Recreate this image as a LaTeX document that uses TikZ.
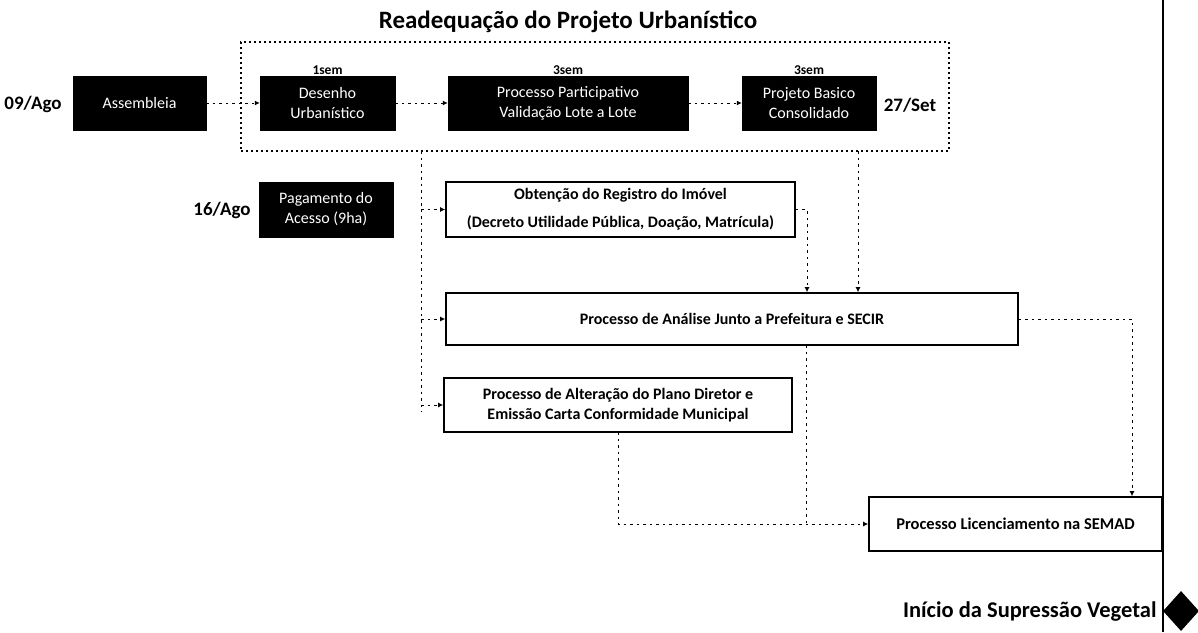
\documentclass[tikz,border=0pt]{standalone}
\usepackage{fontspec}
\setmainfont{Carlito}
\usetikzlibrary{arrows.meta,shapes.geometric,calc}
\begin{document}
\begin{tikzpicture}[x=1pt,y=-1pt,
 blk/.style={fill=black,text=white,draw=black,minimum height=54pt,inner sep=2pt,align=center,font=\fontsize{16}{20}\selectfont},
 wbox/.style={draw=black,line width=1.6pt,fill=white,align=center,inner sep=2pt,font=\bfseries\fontsize{16}{20}\selectfont},
 lbl/.style={font=\bfseries\fontsize{19}{21}\selectfont},
 sem/.style={font=\bfseries\fontsize{13.5}{15}\selectfont},
 grp/.style={draw=black,line width=1.3pt,dash pattern=on 2pt off 3pt},
 conn/.style={line width=1pt,dash pattern=on 2.5pt off 4pt,-{Latex[length=5pt,width=5pt]}},
 faint/.style={line width=1pt,dash pattern=on 2.5pt off 4pt},
]
\useasboundingbox (0,0) rectangle (1198,632);
\node[font=\bfseries\fontsize{25}{27}\selectfont] (title) at (568,22) {Readequação do Projeto Urbanístico};
\node[grp,minimum width=708pt,minimum height=109pt,inner sep=0pt] (grp) at (595,96.5) {};
% row 1
\node[blk,minimum width=133pt] (asm) at (139.5,103) {Assembleia};
\node[blk,minimum width=135pt] (des) at (327.5,103) {Desenho\\Urbanístico};
\node[blk,minimum width=240pt] (part) at (568,103) {Processo Participativo\\Validação Lote a Lote};
\node[blk,minimum width=134pt] (proj) at (809,103) {Projeto Basico\\Consolidado};
\node[sem] (s1) at (327.5,70) {1sem};
\node[sem] (s2) at (568,70) {3sem};
\node[sem] (s3) at (809,70) {3sem};
\node[lbl] (d1) at (33,104) {09/Ago};
\node[lbl] (d2) at (910,105) {27/Set};
% row 2
\node[blk,minimum width=134pt,minimum height=55pt] (pag) at (326,209.5) {Pagamento do\\Acesso (9ha)};
\node[lbl] (d3) at (222,210) {16/Ago};
\node[wbox,minimum width=349pt,minimum height=55pt,font=\bfseries\fontsize{16}{28}\selectfont] (obt) at (620.5,209.5) {Obtenção do Registro do Imóvel\\(Decreto Utilidade Pública, Doação, Matrícula)};
\node[wbox,minimum width=572pt,minimum height=52pt] (ana) at (732,319) {Processo de Análise Junto a Prefeitura e SECIR};
\node[wbox,minimum width=348pt,minimum height=54pt] (alt) at (618,405) {Processo de Alteração do Plano Diretor e\\Emissão Carta Conformidade Municipal};
\node[wbox,minimum width=293pt,minimum height=54pt,font=\bfseries\fontsize{16.5}{20}\selectfont] (sem) at (1015.5,524) {Processo Licenciamento na SEMAD};
% milestone
\coordinate (vtop) at (1163,0);
\coordinate (vbot) at (1163,632);
\draw[line width=2pt] (vtop) -- (vbot);
\node[diamond,fill=black,minimum width=36pt,minimum height=40pt,inner sep=0pt] (dia) at (1181,611) {};
\node[font=\bfseries\fontsize{22.5}{25}\selectfont,anchor=east] (fim) at (1160,612) {Início da Supressão Vegetal};
% connectors row 1
\draw[conn] (asm.east) -- (des.west);
\draw[conn] (des.east) -- (part.west);
\draw[conn] (part.east) -- (proj.west);
% bus
\coordinate (bt) at (421,151);
\coordinate (bb) at (421,412);
\draw[faint] (bt) -- (bb);
\draw[conn] (obt.west -| bt) -- (obt.west);
\draw[conn] (ana.west -| bt) -- (ana.west);
\draw[conn] (alt.west -| bt) -- (alt.west);
% into Analise
\coordinate (oc) at (807,209.5);
\draw[conn] (obt.east) -- (oc) -- (oc |- ana.north);
\coordinate (gc) at (858,151);
\draw[conn] (gc) -- (gc |- ana.north);
% into SEMAD
\coordinate (ac) at (1132,319);
\draw[conn] (ana.east) -- (ac) -- (ac |- sem.north);
\coordinate (a1) at (806,345);
\coordinate (a2) at (618,432);
\draw[faint] (a1) -- (a1 |- sem.west);
\draw[conn] (a2) -- (a2 |- sem.west) -- (sem.west);
\end{tikzpicture}
\end{document}
